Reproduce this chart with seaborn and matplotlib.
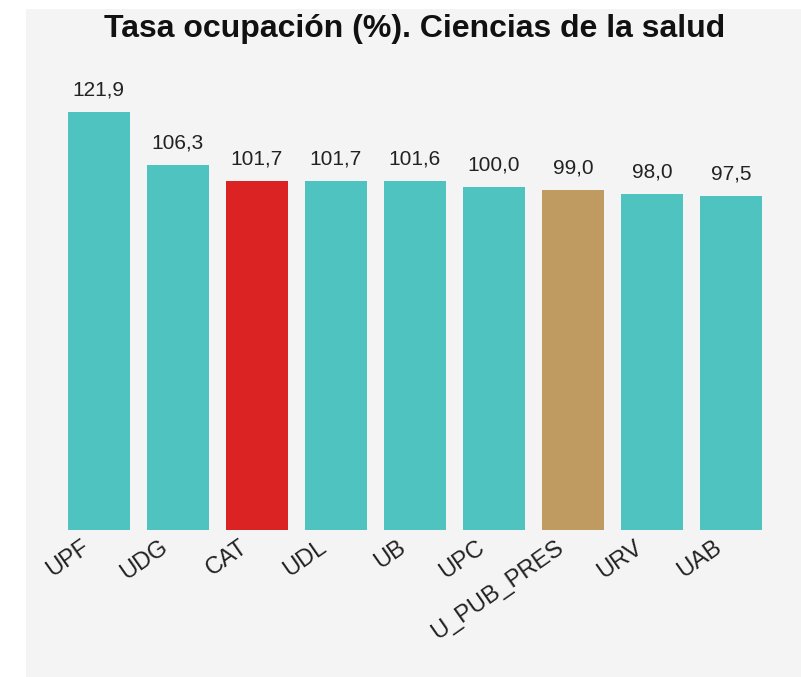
import pandas as pd
import seaborn as sns
import matplotlib.pyplot as plt
from matplotlib.patches import Rectangle
from matplotlib.transforms import ScaledTranslation

# Data
universities = ['UPF', 'UDG', 'CAT', 'UDL', 'UB', 'UPC', 'U_PUB_PRES', 'URV', 'UAB']
occupancy = [121.9, 106.3, 101.7, 101.7, 101.6, 100.0, 99.0, 98.0, 97.5]
bar_colors = ['#4ec3bf', '#4ec3bf', '#dc2323', '#4ec3bf', '#4ec3bf',
              '#4ec3bf', '#bf9b62', '#4ec3bf', '#4ec3bf']

df = pd.DataFrame({'univ': universities, 'tasa': occupancy})

sns.set_style('white')
plt.rcParams['font.family'] = ['Liberation Sans', 'DejaVu Sans']

fig = plt.figure(figsize=(8.01, 6.77), dpi=100)
fig.patch.set_facecolor('white')
# grey panel behind the chart
fig.patches.append(Rectangle((26 / 801, 0), 1, 1 - 9 / 677, transform=fig.transFigure,
                             facecolor='#f4f4f4', edgecolor='none', zorder=-10))

ax = fig.add_axes([59 / 801, 147 / 677, 712 / 801, 446 / 677])
ax.set_facecolor('none')

sns.barplot(data=df, x='univ', y='tasa', hue='univ', palette=bar_colors,
            width=0.785, legend=False, ax=ax, saturation=1, linewidth=0)

ax.set_ylim(0, 130)
ax.set_xlim(-0.5, len(universities) - 0.5)

for i, v in enumerate(occupancy):
    ax.annotate(f'{v:.1f}'.replace('.', ','), (i, v), xytext=(0, 9),
                textcoords='offset points', ha='center', va='bottom',
                fontsize=15, color='#222222')

ax.set_xlabel('')
ax.set_ylabel('')
ax.set_yticks([])
ax.tick_params(axis='x', length=0, pad=4.5)
ax.set_xticks(range(len(universities)))
ax.set_xticklabels(universities, rotation=35, ha='right', rotation_mode='anchor',
                   fontsize=17, color='#222222')
offset = ScaledTranslation(-13 / 72, 0, fig.dpi_scale_trans)
for lbl in ax.get_xticklabels():
    lbl.set_transform(lbl.get_transform() + offset)

sns.despine(ax=ax, left=True, bottom=True)

fig.text(415 / 801, 1 - 29 / 677, 'Tasa ocupación (%). Ciencias de la salud',
         ha='center', va='center', fontsize=23, fontweight='bold', color='#111111')

fig.savefig('out.png', dpi=100)
plt.close(fig)
